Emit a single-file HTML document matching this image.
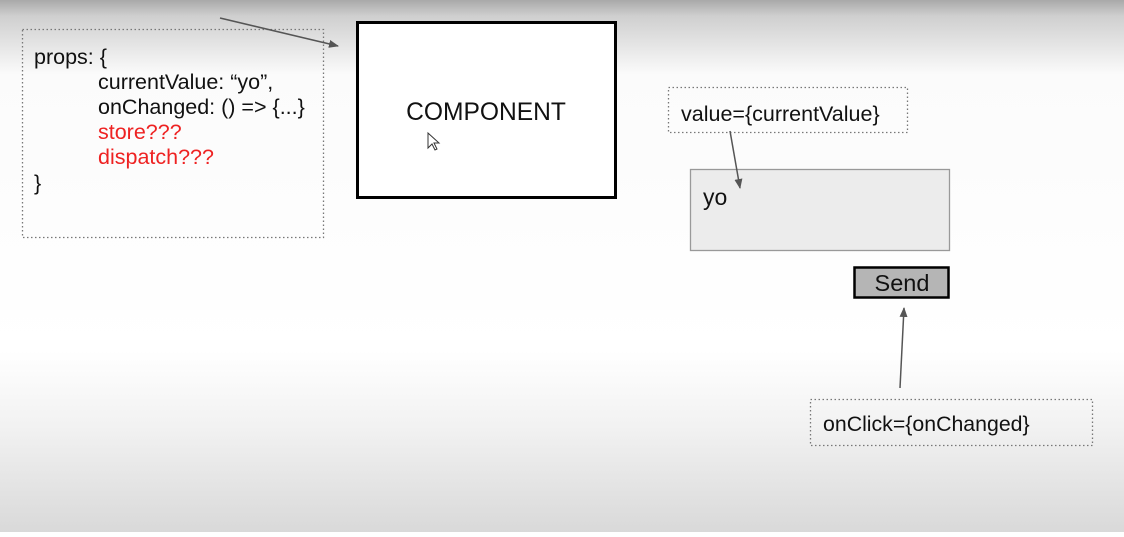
<!DOCTYPE html>
<html><head><meta charset="utf-8"><style>
html,body{margin:0;padding:0}
body{width:1124px;height:532px;overflow:hidden;font-family:"Liberation Sans",sans-serif}
</style></head><body>
<svg width="1124" height="532" xmlns="http://www.w3.org/2000/svg" font-family="Liberation Sans, sans-serif">
<defs>
<linearGradient id="bg" x1="0" y1="0" x2="0" y2="1">
<stop offset="0" stop-color="#a9a9a9"/>
<stop offset="0.03" stop-color="#cfcfcf"/>
<stop offset="0.14" stop-color="#fbfbfb"/>
<stop offset="0.66" stop-color="#ffffff"/>
<stop offset="0.8" stop-color="#f2f2f2"/>
<stop offset="1" stop-color="#d9d9d9"/>
</linearGradient>
<marker id="ah" markerWidth="10" markerHeight="8" refX="9" refY="4" orient="auto" markerUnits="userSpaceOnUse"><path d="M0,0 L10,4 L0,8 z" fill="#555"/></marker>
</defs>
<rect width="1124" height="532" fill="url(#bg)"/>

<g>
<rect x="22.5" y="29.5" width="301" height="208" fill="none" stroke="#777" stroke-width="1.3" stroke-dasharray="1.5,2.5"/>
<g font-size="21.5" fill="#111">
<text x="34" y="64">props: {</text>
<text x="98" y="89">currentValue: “yo”,</text>
<text x="98" y="114">onChanged: () =&gt; {...}</text>
<text x="98" y="139" fill="#ee2222">store???</text>
<text x="98" y="164" fill="#ee2222">dispatch???</text>
<text x="34" y="190">}</text>
</g>
</g>
<line x1="220" y1="18" x2="338" y2="46" stroke="#555" stroke-width="1.5" marker-end="url(#ah)"/>

<g>
<rect x="357.5" y="22.5" width="258" height="175" fill="#fff" stroke="#000" stroke-width="3"/>
<text x="486" y="120" font-size="24.6" text-anchor="middle" fill="#111">COMPONENT</text>
</g>
<path d="M428,133 L428,148 L432,144 L435,150 L437,149 L434,143 L439,143 Z" fill="#fff" stroke="#333" stroke-width="1"/>

<g>
<rect x="668.5" y="87.5" width="239" height="45" fill="none" stroke="#777" stroke-width="1.3" stroke-dasharray="1.5,2.5"/>
<text x="681" y="121" font-size="21.5" fill="#111">value={currentValue}</text>
</g>

<g>
<rect x="690.5" y="169.5" width="259" height="81" fill="#ececec" stroke="#999" stroke-width="1.3"/>
<text x="703" y="205" font-size="23" fill="#111">yo</text>
</g>
<line x1="730" y1="131" x2="740" y2="188" stroke="#555" stroke-width="1.5" marker-end="url(#ah)"/>

<g>
<rect x="854.5" y="267.5" width="94" height="30" fill="#b5b5b5" stroke="#000" stroke-width="2.5"/>
<text x="902" y="291" font-size="23.5" text-anchor="middle" fill="#111">Send</text>
</g>
<line x1="900" y1="388" x2="904" y2="308" stroke="#555" stroke-width="1.5" marker-end="url(#ah)"/>

<g>
<rect x="810.5" y="399.5" width="282" height="46" fill="none" stroke="#777" stroke-width="1.3" stroke-dasharray="1.5,2.5"/>
<text x="823" y="431" font-size="21.3" fill="#111">onClick={onChanged}</text>
</g>
</svg>
</body></html>
